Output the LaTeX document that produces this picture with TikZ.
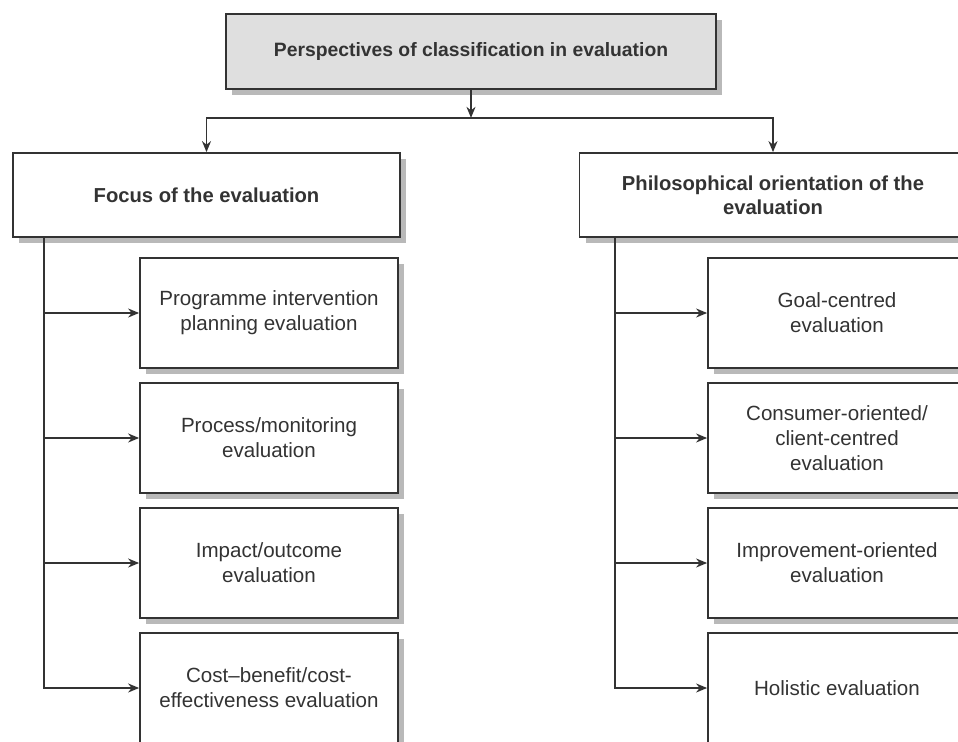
\documentclass[tikz,border=0pt]{standalone}
\usepackage{fontspec}
\setmainfont{Liberation Sans}
\usepackage{xcolor}
\usetikzlibrary{arrows.meta,positioning,calc,shadows}
\definecolor{ink}{HTML}{333333}

\begin{document}
\begin{tikzpicture}[
  box/.style={draw=ink, text=ink, line width=1pt, fill=white, align=center, inner sep=2pt,
              minimum width=5.16cm, minimum height=2.2cm, font=\fontsize{11.7}{14.2}\selectfont,
              drop shadow={shadow xshift=0.12cm, shadow yshift=-0.12cm, fill=gray!55, opacity=1}},
  head/.style={box, minimum width=7.74cm, minimum height=1.68cm,
               font=\fontsize{11.5}{13.6}\selectfont\bfseries},
  title/.style={box, fill=gray!25, minimum width=9.8cm, minimum height=1.5cm,
                font=\fontsize{11}{13}\selectfont\bfseries},
  arr/.style={-{Stealth[length=2.2mm, width=1.8mm]}, line width=1pt, draw=ink}]
\useasboundingbox (0,0) rectangle (19.16,-14.84);
\clip (0,0) rectangle (19.16,-14.84);
\node[title] (persp) at (9.42,-1.03) {Perspectives of classification in evaluation};
\node[head] (focus) at (4.13,-3.9) {Focus of the evaluation};
\node[head] (philo) at (15.46,-3.9) {Philosophical orientation of the\\evaluation};
\node[box] (plan) at (5.38,-6.26) {Programme intervention\\planning evaluation};
\node[box] (proc) at (5.38,-8.76) {Process/monitoring\\evaluation};
\node[box] (impact) at (5.38,-11.26) {Impact/outcome\\evaluation};
\node[box] (cost) at (5.38,-13.76) {Cost--benefit/cost-\\effectiveness evaluation};
\node[box] (goal) at (16.74,-6.26) {Goal-centred\\evaluation};
\node[box] (consumer) at (16.74,-8.76) {Consumer-oriented/\\client-centred\\evaluation};
\node[box] (improve) at (16.74,-11.26) {Improvement-oriented\\evaluation};
\node[box] (holist) at (16.74,-13.76) {Holistic evaluation};
\draw[arr] (persp.south) -- ++(0,-0.56) coordinate (split);
\draw[arr] (split) -| (focus.north);
\draw[arr] (split) -| (philo.north);
\coordinate (ltrunk) at ($(focus.south west)+(0.64,0)$);
\coordinate (rtrunk) at ($(philo.south west)+(0.72,0)$);
\foreach \c in {plan,proc,impact,cost} \draw[arr] (ltrunk) |- (\c.west);
\foreach \c in {goal,consumer,improve,holist} \draw[arr] (rtrunk) |- (\c.west);
\end{tikzpicture}
\end{document}
